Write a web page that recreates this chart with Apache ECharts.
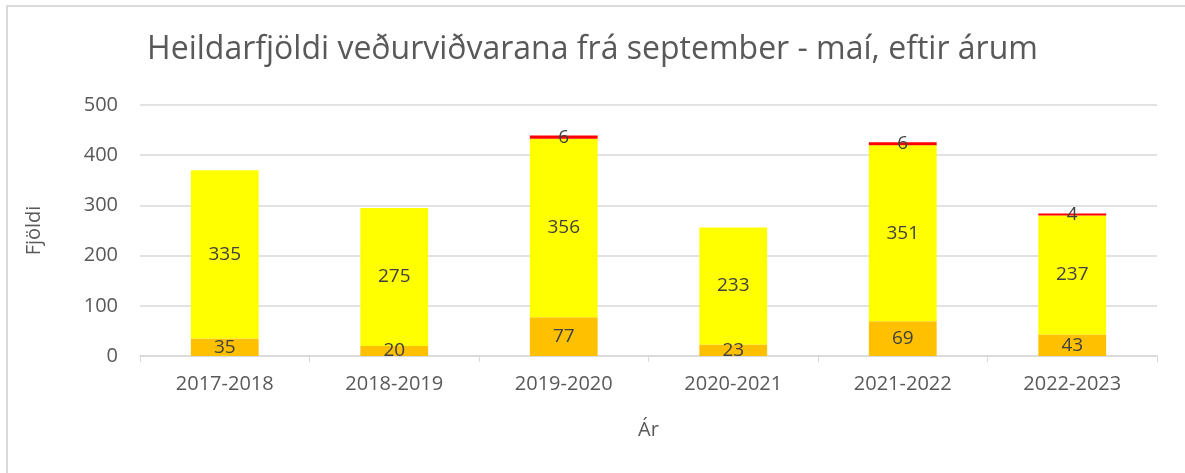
<!DOCTYPE html>
<html>
<head>
<meta charset="utf-8">
<script src="https://cdn.jsdelivr.net/npm/echarts@6/dist/echarts.min.js"></script>
<style>
  html, body { margin: 0; padding: 0; background: #fff; }
  #main { width: 1185px; height: 473px; }
</style>
</head>
<body>
<div id="main"></div>
<script>
var years = ['2017-2018', '2018-2019', '2019-2020', '2020-2021', '2021-2022', '2022-2023'];
var orange = [35, 20, 77, 23, 69, 43];
var yellow = [335, 275, 356, 233, 351, 237];
var red = [0, 0, 6, 0, 6, 4];

var font = 'Open Sans';
var chart = echarts.init(document.getElementById('main'));

function hideZero(p) {
    return p.value ? p.value : '';
}

function layer(name, data, color) {
    return {
        name: name,
        type: 'bar',
        stack: 'total',
        data: data,
        barWidth: '40%',
        itemStyle: { color: color },
        label: {
            show: true,
            position: 'inside',
            color: '#404040',
            fontFamily: font,
            fontSize: 19,
            formatter: hideZero
        }
    };
}

chart.setOption({
    animation: false,
    backgroundColor: '#fff',
    graphic: [{
        type: 'rect',
        shape: { x: 7, y: 6, width: 1220, height: 500 },
        style: { fill: 'none', stroke: '#d9d9d9', lineWidth: 2 },
        silent: true
    }],
    title: {
        text: 'Heildarfjöldi veðurviðvarana frá september - maí, eftir árum',
        left: 'center',
        top: 29,
        textStyle: { color: '#595959', fontFamily: font, fontSize: 32, fontWeight: 'normal' }
    },
    grid: { left: 140, right: 28, top: 105, bottom: 117 },
    xAxis: {
        type: 'category',
        data: years,
        name: 'Ár',
        nameLocation: 'middle',
        nameGap: 64,
        nameTextStyle: { color: '#595959', fontFamily: font, fontSize: 20 },
        axisLine: { lineStyle: { color: '#d9d9d9', width: 1.5 } },
        axisTick: { show: true, length: 6, lineStyle: { color: '#d9d9d9' } },
        axisLabel: { color: '#595959', fontFamily: font, fontSize: 20, margin: 18 }
    },
    yAxis: {
        type: 'value',
        min: 0,
        max: 500,
        interval: 100,
        name: 'Fjöldi',
        nameLocation: 'middle',
        nameGap: 96,
        nameTextStyle: { color: '#595959', fontFamily: font, fontSize: 20 },
        axisLine: { show: false },
        axisTick: { show: false },
        splitLine: { lineStyle: { color: '#d9d9d9', width: 1.5 } },
        axisLabel: { color: '#595959', fontFamily: font, fontSize: 20, margin: 22 }
    },
    series: [
        layer('Orange', orange, '#FFC000'),
        layer('Gul', yellow, '#FFFF00'),
        layer('Rauð', red, '#FF0000')
    ]
});
</script>
</body>
</html>
